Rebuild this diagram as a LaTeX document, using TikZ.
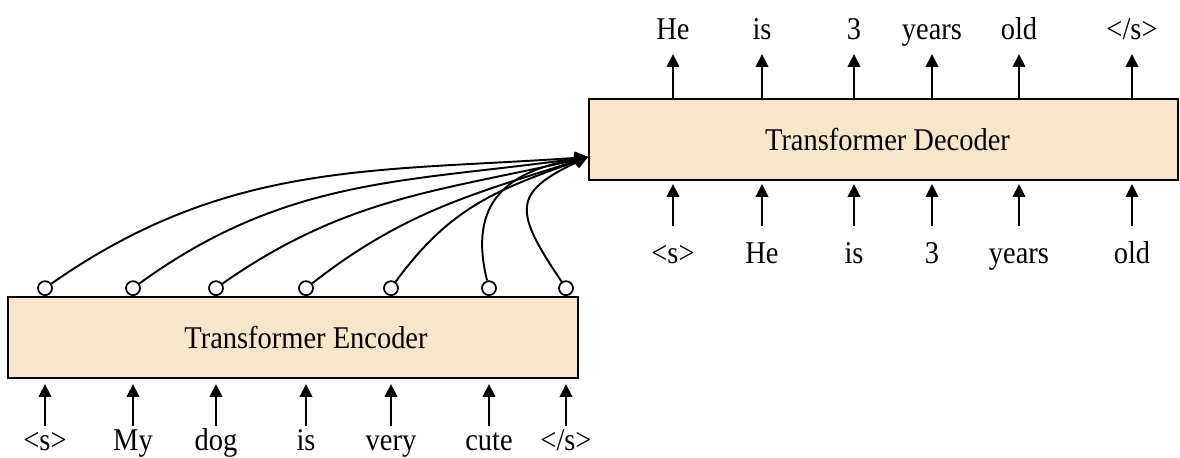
\documentclass[tikz,border=0pt]{standalone}
\usepackage{fontspec}
\setmainfont{Liberation Serif}[FakeStretch=0.9]
\usetikzlibrary{arrows.meta,positioning}

\begin{document}
\begin{tikzpicture}[
    font=\fontsize{18}{22}\selectfont,
    line width=1.1pt,
    block/.style={draw, fill=blockfill, minimum height=1.62cm, inner sep=0pt},
    word/.style={anchor=base, inner sep=0pt, text height=0.42cm, text depth=0.12cm},
    feed/.style={-{Triangle[length=0.26cm,width=0.25cm]}},
    port/.style={draw, circle, fill=white, minimum size=0.28cm, inner sep=0pt, line width=1pt},
  ]
  \definecolor{blockfill}{RGB}{249,230,202}
  \useasboundingbox (0,0) rectangle (23.6,9.14);

  \node[block, minimum width=11.4cm, label={[xshift=0.26cm]center:Transformer Encoder}] (enc) at (5.86,2.39) {};
  \node[block, minimum width=11.78cm, label={[xshift=0.08cm]center:Transformer Decoder}] (dec) at (17.67,6.35) {};

  % encoder side
  \foreach \x/\w [count=\i] in {0.90/{<s>}, 2.66/My, 4.32/dog, 6.12/is, 7.82/very, 9.78/cute, 11.32/{</s>}}
  {
    \node[word] (src\i) at (\x,0.14) {\w};
    \draw[feed, shorten <=0.04cm, shorten >=0.10cm] (src\i.north) -- (enc.south -| src\i.north);
    \node[port, anchor=south] (att\i) at (enc.north -| src\i.north) {};
  }

  % decoder side
  \foreach \x/\w/\v [count=\i] in {13.46/{<s>}/He, 15.24/He/is, 17.08/is/3, 18.64/3/years, 20.38/years/old, 22.64/old/{</s>}}
  {
    \node[word] (tgt\i) at (\x,3.88) {\w};
    \draw[feed, shorten <=0.30cm, shorten >=0.06cm] (tgt\i.north) -- (dec.south -| tgt\i.north);
    \node[word] (out\i) at (\x,8.36) {\v};
    \draw[feed, shorten >=0.16cm] (dec.north -| out\i.south) -- (out\i.south);
  }

  % cross attention
  \coordinate (ctx) at ([yshift=-0.35cm]dec.west);
  \foreach \i/\o/\n/\l in {1/35/184/1, 2/36/188/1, 3/35/193/1, 4/38/198/1, 5/54/200/1.05, 6/104/190/1.3, 7/124/205/1.7}
    \draw[feed] (att\i) to[out=\o, in=\n, looseness=\l] (ctx);
\end{tikzpicture}
\end{document}
